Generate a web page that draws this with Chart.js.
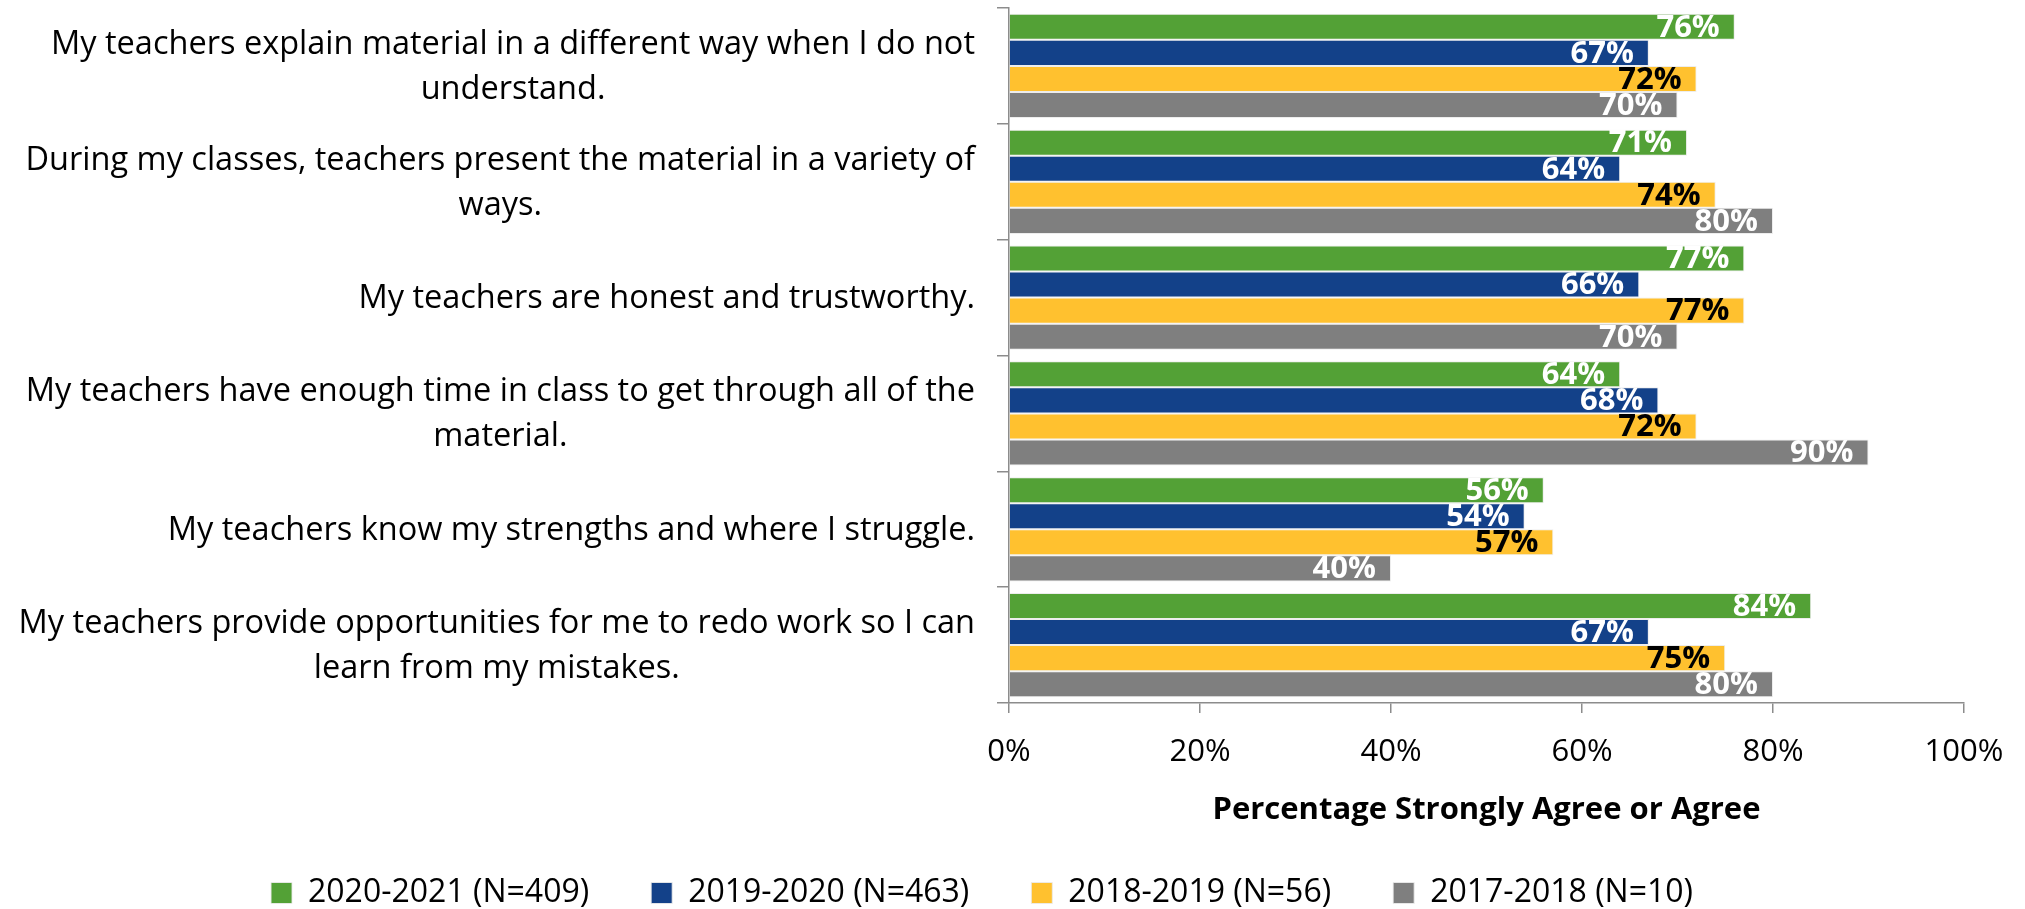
<!DOCTYPE html>
<html>
<head>
<meta charset="utf-8">
<script src="https://cdn.jsdelivr.net/npm/chart.js@4"></script>
<style>
  html, body { margin: 0; padding: 0; background: #ffffff; }
  #wrap { width: 2025px; height: 909px; }
</style>
</head>
<body>
<div id="wrap"><canvas id="chart" width="2025" height="909"></canvas></div>
<script>
// Survey statements (wrapped as they should appear)
const categories = [
  ["My teachers explain material in a different way when I do not", "understand."],
  ["During my classes, teachers present the material in a variety of", "ways."],
  ["My teachers are honest and trustworthy."],
  ["My teachers have enough time in class to get through all of the", "material."],
  ["My teachers know my strengths and where I struggle."],
  ["My teachers provide opportunities for me to redo work so I can", "learn from my mistakes."]
];

// Percentage Strongly Agree or Agree, one array per school year
const seriesNames = ["2020-2021 (N=409)", "2019-2020 (N=463)", "2018-2019 (N=56)", "2017-2018 (N=10)"];
const values2021 = [76, 71, 77, 64, 56, 84];
const values2020 = [67, 64, 66, 68, 54, 67];
const values2019 = [72, 74, 77, 72, 57, 75];
const values2018 = [70, 80, 70, 90, 40, 80];

const xTicks = [0, 20, 40, 60, 80, 100];
const axisTitle = "Percentage Strongly Agree or Agree";

const seriesColors = ["#53A136", "#134189", "#FFC12F", "#7F7F7F"];
const labelColors = ["#FFFFFF", "#FFFFFF", "#000000", "#FFFFFF"];

const FONT = "'Open Sans', 'Noto Sans', 'Liberation Sans', sans-serif";
const AXIS_LEFT = 1009;
const LABEL_RIGHT = 975;

// Value labels drawn inside the end of each bar
const barValueLabels = {
  id: 'barValueLabels',
  afterDatasetsDraw(chart) {
    const ctx = chart.ctx;
    ctx.save();
    ctx.font = "bold 31px " + FONT;
    ctx.textAlign = 'right';
    ctx.textBaseline = 'middle';
    chart.data.datasets.forEach((ds, di) => {
      const meta = chart.getDatasetMeta(di);
      ctx.fillStyle = labelColors[di];
      meta.data.forEach((bar, i) => {
        ctx.fillText(ds.data[i] + '%', bar.x - 15, bar.y + 1);
      });
    });
    ctx.restore();
  }
};

// Statement labels: each block right-aligned to the axis, lines centred within the block
const statementLabels = {
  id: 'statementLabels',
  afterDraw(chart) {
    const ctx = chart.ctx;
    const yScale = chart.scales.y;
    const lineH = 45;
    ctx.save();
    ctx.font = "32.5px " + FONT;
    ctx.fillStyle = '#000000';
    ctx.textAlign = 'center';
    ctx.textBaseline = 'middle';
    categories.forEach((lines, i) => {
      const cy = yScale.getPixelForValue(i);
      const w = Math.max(...lines.map(l => ctx.measureText(l).width));
      const cx = LABEL_RIGHT - w / 2;
      const y0 = cy - (lines.length - 1) * lineH / 2;
      lines.forEach((l, k) => ctx.fillText(l, cx, y0 + k * lineH + 1));
    });
    ctx.restore();
  }
};

const allSeries = [values2021, values2020, values2019, values2018];

new Chart(document.getElementById('chart'), {
  type: 'bar',
  data: {
    labels: categories.map(c => c.join(' ')),
    datasets: allSeries.map((vals, i) => ({
      label: seriesNames[i],
      data: vals,
      backgroundColor: seriesColors[i],
      borderColor: 'rgba(235,235,235,0.9)',
      borderWidth: 1,
      barPercentage: 1.0,
      categoryPercentage: 0.9
    }))
  },
  options: {
    indexAxis: 'y',
    responsive: false,
    devicePixelRatio: 1,
    animation: false,
    layout: { padding: { left: 0, right: 61, top: 8, bottom: -10 } },
    plugins: {
      legend: {
        position: 'bottom',
        labels: {
          boxWidth: 21,
          boxHeight: 21,
          padding: 62,
          color: '#000000',
          font: { family: FONT, size: 32 }
        }
      },
      tooltip: { enabled: false }
    },
    scales: {
      x: {
        min: 0,
        max: 100,
        afterBuildTicks(scale) { scale.ticks = xTicks.map(v => ({ value: v })); },
        afterFit(scale) { scale.height = 112; },
        grid: { drawOnChartArea: false, drawTicks: true, tickLength: 10, color: '#8C8C8C', lineWidth: 1.5 },
        border: { display: true, color: '#8C8C8C', width: 1.5 },
        ticks: {
          padding: 21,
          color: '#000000',
          font: { family: FONT, size: 31 },
          maxRotation: 0,
          callback: v => v + '%'
        },
        title: {
          display: true,
          text: axisTitle,
          color: '#000000',
          font: { family: FONT, size: 31, weight: 'bold' },
          padding: { top: 0, bottom: -14 }
        }
      },
      y: {
        afterFit(scale) { scale.width = AXIS_LEFT; },
        grid: { drawOnChartArea: false, drawTicks: true, tickLength: 12, color: '#8C8C8C', lineWidth: 1.5, offset: true },
        border: { display: true, color: '#8C8C8C', width: 1.5 },
        ticks: { display: false }
      }
    }
  },
  plugins: [barValueLabels, statementLabels]
});
</script>
</body>
</html>
